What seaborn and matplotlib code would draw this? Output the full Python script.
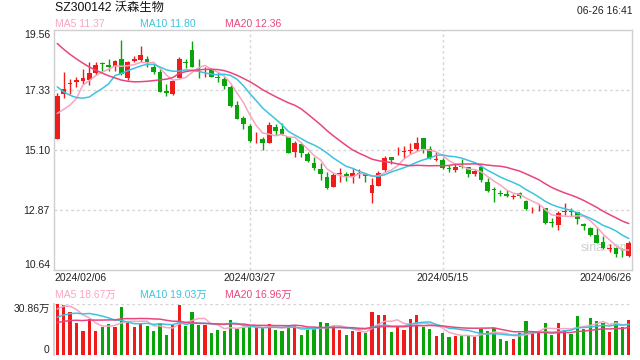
import matplotlib
matplotlib.use("Agg")
import matplotlib.pyplot as plt
import numpy as np
import pandas as pd
import seaborn as sns

sns.set_theme(style="white")
plt.rcParams["font.family"] = ["Liberation Sans", "Noto Sans CJK SC"]

# ---------------------------------------------------------------- data
TITLE = "SZ300142 沃森生物"
STAMP = "06-26 16:41"
DATE_LABELS = ["2024/02/06", "2024/03/27", "2024/05/15", "2024/06/26"]
DATE_POS = [0, 30, 60, 89]
PRICE_TICKS = [10.64, 12.87, 15.10, 17.33, 19.56]
VOL_MAX = 30.86

OPEN = [15.50, 17.15, 17.52, 17.62, 17.66, 17.68, 17.93, 18.30, 18.24, 18.21,
        18.46, 17.77, 18.39, 18.43, 18.46, 18.17, 17.99, 17.27, 17.16, 17.77,
        18.36, 18.80, 18.10, 18.06, 18.08, 17.79, 17.71, 17.43, 16.75, 16.28,
        15.97, 15.48, 15.50, 15.35, 15.94, 15.86, 15.55, 15.02, 15.29, 14.93,
        14.61, 14.38, 14.09, 13.72, 14.20, 14.19, 14.07, 14.20, 14.19, 13.47,
        13.76, 14.34, 14.82, 14.92, 14.99, 15.06, 15.12, 15.51, 15.11, 14.72,
        14.71, 14.42, 14.34, 14.47, 14.44, 14.19, 14.46, 13.90, 13.64, 13.50,
        13.45, 13.32, 13.47, 13.19, 12.84, 12.84, 12.91, 12.42, 12.29, 12.76,
        12.83, 12.76, 12.33, 12.19, 11.92, 11.66, 11.40, 11.45, 11.15, 11.14]
HIGH = [17.21, 17.97, 17.71, 17.81, 18.08, 18.34, 18.35, 18.35, 18.45, 18.43,
        19.16, 18.40, 18.57, 18.96, 18.57, 18.26, 18.08, 17.53, 17.68, 18.52,
        18.46, 19.13, 18.45, 18.15, 18.12, 17.97, 17.81, 17.50, 16.91, 16.34,
        16.03, 15.74, 15.55, 16.11, 16.03, 16.07, 15.58, 15.40, 15.33, 15.02,
        14.81, 14.59, 14.25, 14.21, 14.42, 14.28, 14.42, 14.36, 14.24, 14.03,
        14.31, 14.86, 14.83, 15.18, 15.23, 15.35, 15.58, 15.54, 15.23, 15.01,
        14.80, 14.52, 14.55, 14.73, 14.46, 14.36, 14.52, 14.03, 13.69, 13.59,
        13.59, 13.43, 13.53, 13.22, 12.95, 13.07, 12.94, 12.54, 12.81, 13.10,
        12.91, 12.79, 12.36, 12.23, 12.23, 11.89, 11.58, 11.49, 11.43, 11.71]
LOW = [15.50, 17.03, 17.16, 17.43, 17.53, 17.50, 17.87, 18.03, 18.00, 18.03,
       17.87, 17.68, 18.34, 18.36, 18.15, 17.89, 17.22, 17.10, 17.12, 17.74,
       18.14, 18.15, 17.77, 17.81, 17.78, 17.60, 17.35, 16.69, 16.22, 15.85,
       15.39, 15.35, 15.08, 15.33, 15.64, 15.64, 14.96, 14.83, 14.83, 14.65,
       14.34, 13.97, 13.64, 13.69, 13.90, 13.94, 13.87, 14.05, 13.90, 13.12,
       13.76, 14.28, 14.56, 14.91, 14.77, 14.93, 15.06, 14.98, 14.73, 14.68,
       14.36, 14.28, 14.28, 14.40, 14.09, 14.11, 13.88, 13.53, 13.16, 13.38,
       13.32, 13.25, 13.31, 12.85, 12.73, 12.81, 12.33, 12.23, 12.11, 12.67,
       12.63, 12.33, 12.11, 11.90, 11.61, 11.39, 11.28, 11.12, 11.12, 11.09]
CLOSE = [17.09, 17.35, 17.58, 17.68, 17.77, 17.94, 18.25, 18.26, 18.18, 18.39,
         17.89, 18.35, 18.46, 18.61, 18.30, 17.98, 17.25, 17.19, 17.66, 18.46,
         18.33, 18.18, 18.06, 18.08, 17.81, 17.74, 17.47, 16.72, 16.25, 16.05,
         15.42, 15.50, 15.35, 16.01, 15.79, 15.66, 14.98, 15.33, 14.96, 14.67,
         14.42, 14.19, 13.68, 14.15, 14.23, 14.13, 14.24, 14.23, 14.13, 13.78,
         14.24, 14.80, 14.71, 14.94, 15.04, 15.08, 15.33, 15.11, 14.80, 14.76,
         14.40, 14.37, 14.46, 14.44, 14.19, 14.31, 13.97, 13.57, 13.59, 13.46,
         13.38, 13.38, 13.37, 12.89, 12.86, 12.86, 12.36, 12.36, 12.73, 12.81,
         12.78, 12.50, 12.27, 11.92, 11.64, 11.43, 11.45, 11.20, 11.13, 11.61]
# volume in 万手
VOLUME = [30.86, 30.5, 26.4, 19.7, 14.8, 21.7, 14.8, 17.3, 18.9, 17.3,
          29.2, 19.7, 17.3, 19.3, 17.7, 14.8, 19.3, 12.2, 18.3, 30.4,
          17.7, 26.4, 18.3, 18.3, 13.6, 15.2, 14.8, 21.3, 16.0, 17.3,
          16.8, 16.4, 16.8, 18.9, 15.2, 14.8, 18.1, 18.1, 12.2, 15.2,
          16.2, 20.1, 19.7, 17.7, 15.2, 12.2, 14.6, 14.0, 13.6, 26.4,
          24.3, 24.3, 14.2, 17.7, 15.2, 22.1, 24.3, 17.0, 15.8, 11.6,
          13.6, 11.0, 11.6, 11.6, 11.6, 11.2, 15.8, 14.6, 16.6, 9.7,
          8.7, 9.7, 13.2, 20.5, 14.6, 14.0, 19.5, 12.2, 19.5, 15.2,
          12.8, 23.7, 15.6, 22.5, 20.5, 19.7, 14.2, 20.5, 17.0, 21.3]

# sessions before the window, only needed to seed the moving averages
PREV_CLOSE = [21.6, 21.4, 21.1, 20.9, 20.8, 20.6, 20.4, 20.2, 20.0, 19.5,
              19.2, 18.9, 18.5, 18.0, 17.5, 16.60, 16.78, 16.43, 15.30]
PREV_VOLUME = [15, 16, 17, 18, 15, 16, 17, 17, 16, 17,
               17, 18, 17, 19, 19, 22, 26, 30, 31]

MA_NAMES = ["MA5", "MA10", "MA20"]
MA_WINDOWS = [5, 10, 20]
MA_COLORS = ["#f8a5c2", "#3ec3df", "#e8467e"]
MA_LAST = [11.37, 11.80, 12.36]
VOL_MA_LAST = [18.67, 19.03, 16.96]

UP, DOWN = "#f01c1c", "#0aa30a"
GRID = "#d6d6d6"
FRAME = "#cfcfcf"

# ---------------------------------------------------------------- layout
W, H = 640, 360
fig = plt.figure(figsize=(W / 100, H / 100), dpi=100)
fig.patch.set_facecolor("white")


def fx(px):
    return px / W


def fy(py):
    return 1 - py / H


ax = fig.add_axes([fx(54), fy(269.5), fx(578), 240 / H])
axv = fig.add_axes([fx(54), fy(355), fx(578), 50.7 / H])

n = len(CLOSE)
idx = np.arange(n)
o, h, l, c = map(np.array, (OPEN, HIGH, LOW, CLOSE))
colors = [UP if cc >= oo else DOWN for oo, cc in zip(o, c)]

# ---------------------------------------------------------------- price panel
ax.vlines(idx, l, h, colors=colors, linewidth=1, zorder=2)
body = np.maximum(np.abs(c - o), 0.025)
ax.bar(idx, body, bottom=np.minimum(o, c), width=0.74, color=colors,
       linewidth=0, zorder=3)

closes = pd.Series(PREV_CLOSE + CLOSE)
for name, win, col in zip(MA_NAMES, MA_WINDOWS, MA_COLORS):
    ma = closes.rolling(win).mean().iloc[-n:].to_numpy()
    sns.lineplot(x=idx, y=ma, ax=ax, color=col, linewidth=1.1, zorder=4)

for t in PRICE_TICKS[1:-1]:
    ax.axhline(t, color=GRID, linewidth=1, linestyle=(0, (2, 2)), zorder=1)
for p in DATE_POS[1:3]:
    ax.axvline(p, color=GRID, linewidth=1, linestyle=(0, (2, 2)), zorder=1)
    axv.axvline(p, color=GRID, linewidth=1, linestyle=(0, (2, 2)), zorder=1)

ax.set_xlim(-0.5, n - 0.5)
ax.set_ylim(PRICE_TICKS[0], PRICE_TICKS[-1])
ax.set_xticks([])
ax.set_yticks(PRICE_TICKS)
ax.set_yticklabels([f"{t:.2f}" for t in PRICE_TICKS])
ax.tick_params(axis="y", length=0, pad=3, labelsize=7.5, labelcolor="#222222")
ylabels = ax.get_yticklabels()
ylabels[0].set_va("bottom")
ylabels[-1].set_va("top")
for s in ax.spines.values():
    s.set_color(FRAME)
    s.set_linewidth(1)

ax.text(0.997, 0.09, "sina.com", transform=ax.transAxes, ha="right",
        va="center", fontsize=9, color="#cfcfcf", zorder=0.5)

has = ["left", "center", "center", "right"]
for lab, p, a in zip(DATE_LABELS, DATE_POS, has):
    xp = -0.5 if a == "left" else (n - 0.5 if a == "right" else p)
    ax.text(xp, -0.036, lab, transform=ax.get_xaxis_transform(), ha=a,
            va="center", fontsize=7.5, color="#222222")

# ---------------------------------------------------------------- volume panel
axv.bar(idx, VOLUME, width=0.5, color=colors, linewidth=0, zorder=2)
vols = pd.Series(PREV_VOLUME + VOLUME)
for win, col in zip(MA_WINDOWS, MA_COLORS):
    vma = vols.rolling(win).mean().iloc[-n:].to_numpy()
    sns.lineplot(x=idx, y=vma, ax=axv, color=col, linewidth=1.1, zorder=3)
axv.axhline(VOL_MAX, color=GRID, linewidth=1, linestyle=(0, (2, 2)), zorder=1)
axv.set_xlim(-0.5, n - 0.5)
axv.set_ylim(0, VOL_MAX)
axv.set_xticks([])
axv.set_yticks([0, VOL_MAX])
axv.set_yticklabels(["0", f"{VOL_MAX:.2f}万"])
axv.tick_params(axis="y", length=0, pad=3, labelsize=7.5, labelcolor="#222222")
vlabels = axv.get_yticklabels()
vlabels[0].set_va("bottom")
vlabels[1].set_va("top")
for side in ["top", "right", "bottom"]:
    axv.spines[side].set_visible(False)
axv.spines["left"].set_color(FRAME)

# ---------------------------------------------------------------- header texts
fig.text(fx(55), fy(8), TITLE, fontsize=8.8, color="#111111", va="center")
fig.text(fx(633), fy(11.5), STAMP, fontsize=7.5, color="#222222",
         ha="right", va="center")
label_x = [55, 140, 225]
for name, val, vval, col, x0 in zip(MA_NAMES, MA_LAST, VOL_MA_LAST,
                                     MA_COLORS, label_x):
    fig.text(fx(x0), fy(24), f"{name} {val:.2f}", fontsize=7.5, color=col,
             va="center")
    fig.text(fx(x0), fy(294.5), f"{name} {vval:.2f}万", fontsize=7.5,
             color=col, va="center")

fig.savefig("out.png", dpi=100, facecolor="white")
